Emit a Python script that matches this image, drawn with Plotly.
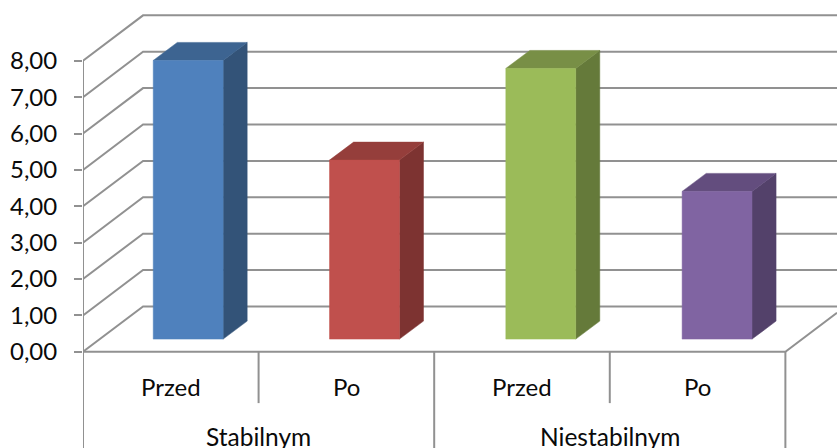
import plotly.graph_objects as go

# Chart data
groups = ["Stabilnym", "Niestabilnym"]
categories = ["Przed", "Po", "Przed", "Po"]
values = [7.66, 4.92, 7.44, 4.06]
y_ticks = [0, 1, 2, 3, 4, 5, 6, 7, 8]

# Face colours per bar: front, top, side
front_colors = ["#4f81bd", "#c0504d", "#9bbb59", "#8064a2"]
top_colors = ["#3d6491", "#953e3b", "#788f46", "#634d7e"]
side_colors = ["#335378", "#7d3331", "#657a3a", "#53416a"]
edge_color = "#919191"
text_color = "#0a0a0a"
font_family = "Lato"

# Oblique projection, in axis units
WALL_DX, WALL_DY = 0.342, 1.248
FLOOR_DX, FLOOR_DY = 0.097, 0.349
BAR_DX, BAR_DY = 0.137, 0.495
BAR_HALF = 0.199
BAR_PITCH = 1.004
X_MAX = 4.294
Y_MIN, Y_MAX = -2.644, 9.67

fig = go.Figure()


def poly(xs, ys, color=None, fill=None, width=2):
    fig.add_trace(go.Scatter(
        x=xs, y=ys, mode="lines", hoverinfo="skip", showlegend=False,
        fill="toself" if fill else None, fillcolor=fill,
        line=dict(color=color or fill, width=width),
    ))


# Wall and side gridlines
for v in y_ticks:
    poly([0, WALL_DX, X_MAX], [v, v + WALL_DY, v + WALL_DY], edge_color)

# Floor: front edge and right-hand edge
n = len(categories)
poly([0, n, X_MAX], [0, 0, (X_MAX - n) * WALL_DY / WALL_DX], edge_color)

# Value axis and the two-level category separators
poly([0, 0], [y_ticks[-1], Y_MIN], edge_color)
for i in range(1, n + 1):
    poly([i, i], [0, Y_MIN if i % 2 == 0 else -1.41], edge_color)

# Bars as three projected faces
for i, v in enumerate(values):
    x0 = (i + 0.5) * BAR_PITCH + FLOOR_DX - BAR_HALF
    x1 = (i + 0.5) * BAR_PITCH + FLOOR_DX + BAR_HALF
    b = FLOOR_DY
    t = FLOOR_DY + v
    poly([x1, x1 + BAR_DX, x1 + BAR_DX, x1, x1], [b, b + BAR_DY, t + BAR_DY, t, b], fill=side_colors[i], width=0.5)
    poly([x0, x0 + BAR_DX, x1 + BAR_DX, x1, x0], [t, t + BAR_DY, t + BAR_DY, t, t], fill=top_colors[i], width=0.5)
    poly([x0, x1, x1, x0, x0], [b, b, t, t, b], fill=front_colors[i], width=0.5)

# Two-level category labels
for i, c in enumerate(categories):
    fig.add_annotation(x=i + 0.5, y=-0.95, text=c, showarrow=False, xref="x", yref="y",
                       font=dict(family=font_family, size=24, color=text_color))
for i, g in enumerate(groups):
    fig.add_annotation(x=2 * i + 1, y=-2.34, text=g, showarrow=False, xref="x", yref="y",
                       font=dict(family=font_family, size=24.5, color=text_color))

fig.update_layout(
    width=837, height=448, margin=dict(l=0, r=0, t=0, b=0),
    paper_bgcolor="white", plot_bgcolor="white", showlegend=False,
    separators=", ",
    xaxis=dict(domain=[83 / 837, 1], range=[0, X_MAX], visible=False, fixedrange=True),
    yaxis=dict(
        range=[Y_MIN, Y_MAX], tickvals=y_ticks, tickformat=".2f", showgrid=False, zeroline=False,
        ticks="outside", ticklen=8, tickwidth=2, tickcolor=edge_color, showline=False,
        ticklabelstandoff=12,
        tickfont=dict(family=font_family, size=24, color=text_color), fixedrange=True,
    ),
)

fig.write_html("out.html")
